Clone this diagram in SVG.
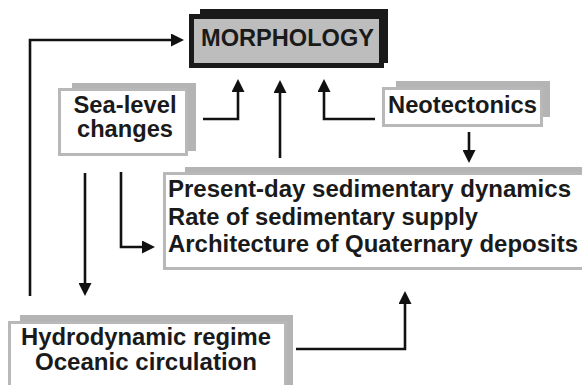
<svg xmlns="http://www.w3.org/2000/svg" width="582" height="385" viewBox="0 0 582 385">
<style>
.shadow{fill:#b4b4b4;stroke:none}
.box{fill:#ffffff;stroke:#b8b8b8;stroke-width:3}
.t{font-family:"Liberation Sans",Arial,sans-serif;font-weight:bold;font-size:23.5px;fill:#1a1a1a}
.c{text-anchor:middle}
.conn{fill:none;stroke:#111111;stroke-width:2.6}
</style>
<defs>
<marker id="ah" viewBox="0 0 13 13" refX="1" refY="6.5" markerWidth="13" markerHeight="13" markerUnits="userSpaceOnUse" orient="auto">
<path d="M0,0 L13,6.5 L0,13 Z" fill="#111111"/>
</marker>
</defs>
<rect width="582" height="385" fill="#ffffff"/>
<g id="morphology">
<rect x="200" y="9" width="188" height="54" fill="#1a1a1a"/>
<rect x="191.5" y="16.5" width="190" height="49" fill="#bdbdbd" stroke="#1a1a1a" stroke-width="5"/>
<text class="t c" x="287.5" y="46" textLength="173" lengthAdjust="spacingAndGlyphs">MORPHOLOGY</text>
</g>
<g id="sea-level">
<rect class="shadow" x="72" y="83" width="124" height="68"/>
<rect class="box" x="59.5" y="89.5" width="127" height="65"/>
<text class="t c" x="125" y="113" textLength="103" lengthAdjust="spacingAndGlyphs">Sea-level</text>
<text class="t c" x="125" y="137" textLength="96" lengthAdjust="spacingAndGlyphs">changes</text>
</g>
<g id="neotectonics">
<rect class="shadow" x="396" y="81" width="154" height="36"/>
<rect class="box" x="383.5" y="88.5" width="158" height="37"/>
<text class="t c" x="462.5" y="113" textLength="149" lengthAdjust="spacingAndGlyphs">Neotectonics</text>
</g>
<g id="sedimentary">
<rect class="shadow" x="185" y="167" width="410" height="100"/>
<rect class="box" x="164.5" y="173.5" width="425" height="95"/>
<text class="t" x="168" y="197" textLength="403" lengthAdjust="spacingAndGlyphs">Present-day sedimentary dynamics</text>
<text class="t" x="168" y="224.5" textLength="310" lengthAdjust="spacingAndGlyphs">Rate of sedimentary supply</text>
<text class="t" x="168" y="252" textLength="410" lengthAdjust="spacingAndGlyphs">Architecture of Quaternary deposits</text>
</g>
<g id="hydrodynamic">
<rect class="shadow" x="20" y="315" width="273" height="80"/>
<rect class="box" x="9.5" y="322.5" width="276" height="70"/>
<text class="t c" x="146" y="345" textLength="250" lengthAdjust="spacingAndGlyphs">Hydrodynamic regime</text>
<text class="t c" x="146" y="370" textLength="222" lengthAdjust="spacingAndGlyphs">Oceanic circulation</text>
</g>
<g id="connectors">
<path class="conn" d="M30,296 V40 H172" marker-end="url(#ah)"/>
<path class="conn" d="M85,173 V284" marker-end="url(#ah)"/>
<path class="conn" d="M121,172 V247 H143" marker-end="url(#ah)"/>
<path class="conn" d="M203,119 H238 V91" marker-end="url(#ah)"/>
<path class="conn" d="M280,158 V92" marker-end="url(#ah)"/>
<path class="conn" d="M375,119 H324 V91" marker-end="url(#ah)"/>
<path class="conn" d="M469,132 V151" marker-end="url(#ah)"/>
<path class="conn" d="M296,349 H405 V303" marker-end="url(#ah)"/>
</g>
</svg>
